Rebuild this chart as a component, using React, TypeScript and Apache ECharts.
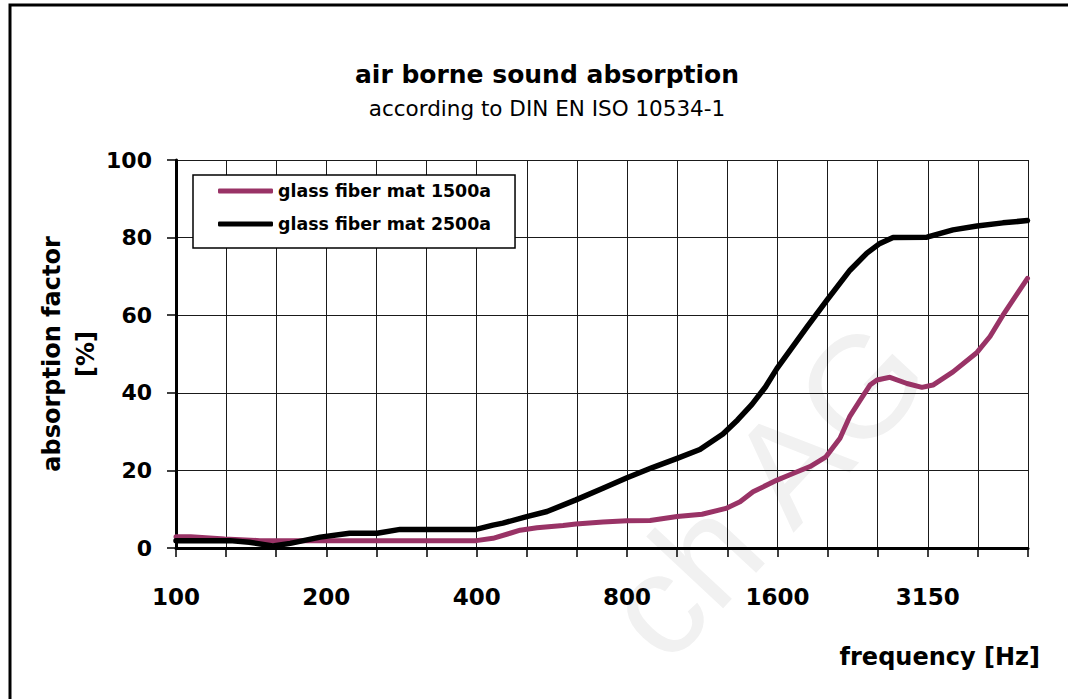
import React, { useEffect, useRef } from "react";
import * as echarts from "echarts";

// third-octave band centre frequencies (grid lines)
const BANDS = [100, 125, 160, 200, 250, 315, 400, 500, 630, 800, 1000, 1250, 1600, 2000, 2500, 3150, 4000, 5000];
// bands that carry a tick label
const LABELED_BANDS = [100, 200, 400, 800, 1600, 3150];

const SERIES_NAMES = ["glass fiber mat 1500a", "glass fiber mat 2500a"];

// glass fiber mat 1500a: frequency [Hz] / absorption factor [%]
const FREQ_1500A = [100, 107, 125, 147, 397, 429, 464, 486, 525, 592, 628, 711, 794, 883, 1000, 1121, 1251, 1335, 1417, 1582, 1702, 1841, 1981, 2113, 2212, 2315, 2425, 2504, 2658, 2874, 3079, 3238, 3551, 3965, 4209, 4467, 5000];
const VAL_1500A = [2.9, 2.9, 2.3, 1.9, 1.9, 2.5, 3.8, 4.6, 5.2, 5.8, 6.2, 6.7, 7.0, 7.1, 8.1, 8.7, 10.2, 11.9, 14.5, 17.5, 19.2, 21, 23.5, 28.3, 34, 38, 42, 43.3, 44, 42.4, 41.4, 42, 45.4, 50.4, 54.5, 60, 69.5];

// glass fiber mat 2500a
const FREQ_2500A = [100, 112, 128, 140, 156, 169, 194, 222, 252, 280, 397, 429, 449, 501, 550, 628, 711, 794, 895, 1000, 1110, 1234, 1320, 1410, 1500, 1582, 1816, 1990, 2212, 2391, 2538, 2696, 3151, 3551, 3965, 4467, 5000];
const VAL_2500A = [1.9, 1.9, 1.9, 1.5, 0.5, 1.2, 2.8, 3.8, 3.8, 4.8, 4.8, 5.9, 6.4, 8.1, 9.4, 12.4, 15.4, 18.1, 20.8, 23.1, 25.4, 29.4, 33, 37, 41.5, 46.3, 57, 63.9, 71.6, 76, 78.5, 80, 80.1, 82, 83, 83.8, 84.4];

const Y_TICKS = { min: 0, max: 100, interval: 20 };

const FONT = "'DejaVu Sans', sans-serif";
const PURPLE = "#993366";

// position of a frequency on the third-octave band axis
const bandPos = (f: number) => 10 * Math.log10(f / BANDS[0]);
const toPoints = (fs: number[], vs: number[]) => fs.map((f, i) => [bandPos(f), vs[i]]);

export default function App() {
  const ref = useRef<HTMLDivElement>(null);

  useEffect(() => {
    if (!ref.current) return;
    const chart = echarts.init(ref.current, null, { renderer: "svg" });

    const option: any = {
      animation: false,
      backgroundColor: "#ffffff",
      title: {
        text: "air borne sound absorption",
        subtext: "according to DIN EN ISO 10534-1",
        left: 542,
        top: 57,
        textAlign: "center",
        itemGap: 10,
        textStyle: { fontFamily: FONT, fontSize: 25, fontWeight: "bold", color: "#000" },
        subtextStyle: { fontFamily: FONT, fontSize: 21.5, fontWeight: "normal", color: "#000" },
      },
      legend: {
        left: 193,
        top: 175,
        orient: "vertical",
        data: SERIES_NAMES,
        icon: "roundRect",
        itemWidth: 55,
        itemHeight: 5,
        itemGap: 13,
        padding: [6, 24, 14, 25],
        backgroundColor: "#fff",
        borderColor: "#000",
        borderWidth: 1.5,
        borderRadius: 0,
        textStyle: { fontFamily: FONT, fontSize: 17.4, fontWeight: "bold", color: "#000", lineHeight: 20 },
      },
      grid: { left: 176, right: 40, top: 160, bottom: 151, containLabel: false },
      xAxis: {
        type: "value",
        min: 0,
        max: BANDS.length - 1,
        interval: 1,
        axisLine: { show: true, onZero: false, lineStyle: { color: "#000", width: 3 } },
        axisTick: { show: true, inside: false, length: 9, lineStyle: { color: "#000", width: 1.5 } },
        splitLine: { show: true, lineStyle: { color: "#1a1a1a", width: 1 } },
        axisLabel: {
          margin: 37,
          fontFamily: FONT,
          fontSize: 23,
          fontWeight: "bold",
          color: "#000",
          formatter: (v: number) => {
            const f = BANDS[Math.round(v)];
            return LABELED_BANDS.includes(f) ? String(f) : "";
          },
        },
      },
      yAxis: {
        type: "value",
        min: Y_TICKS.min,
        max: Y_TICKS.max,
        interval: Y_TICKS.interval,
        name: "absorption factor\n[%]",
        nameLocation: "middle",
        nameRotate: 90,
        nameGap: 73,
        nameMoveOverlap: false,
        nameTextStyle: { fontFamily: FONT, fontSize: 24, fontWeight: "bold", color: "#000", lineHeight: 34, align: "center" },
        axisLine: { show: true, lineStyle: { color: "#000", width: 3 } },
        axisTick: { show: true, inside: false, length: 9, lineStyle: { color: "#000", width: 1.5 } },
        splitLine: { show: true, lineStyle: { color: "#1a1a1a", width: 1 } },
        axisLabel: { margin: 24, fontFamily: FONT, fontSize: 22, fontWeight: "bold", color: "#000" },
      },
      series: [
        {
          name: SERIES_NAMES[0],
          type: "line",
          data: toPoints(FREQ_1500A, VAL_1500A),
          showSymbol: false,
          smooth: false,
          color: PURPLE,
          lineStyle: { color: PURPLE, width: 5, cap: "round", join: "round" },
          z: 3,
        },
        {
          name: SERIES_NAMES[1],
          type: "line",
          data: toPoints(FREQ_2500A, VAL_2500A),
          showSymbol: false,
          smooth: false,
          color: "#000",
          lineStyle: { color: "#000", width: 5.5, cap: "round", join: "round" },
          z: 4,
        },
      ],
      graphic: [
        {
          type: "text",
          x: 765,
          y: 490,
          rotation: 0.82,
          z: -10,
          silent: true,
          style: {
            text: "ch AG",
            fontFamily: "'Liberation Sans', Arial, sans-serif",
            fontSize: 145,
            fill: "#f1f1f1",
            align: "center",
            verticalAlign: "middle",
          },
        },
        {
          type: "text",
          x: 1040,
          y: 657,
          z: 10,
          style: {
            text: "frequency [Hz]",
            fontFamily: FONT,
            fontSize: 24,
            fontWeight: "bold",
            fill: "#000",
            align: "right",
            verticalAlign: "middle",
          },
        },
        {
          type: "rect",
          z: 100,
          silent: true,
          shape: { x: 10, y: 5, width: 1100, height: 720 },
          style: { fill: "none", stroke: "#000", lineWidth: 3 },
        },
      ],
    };

    chart.setOption(option);
    return () => chart.dispose();
  }, []);

  return (
    <div
      ref={ref}
      style={{ position: "fixed", left: 0, top: 0, width: 1068, height: 699, background: "#fff" }}
    />
  );
}
